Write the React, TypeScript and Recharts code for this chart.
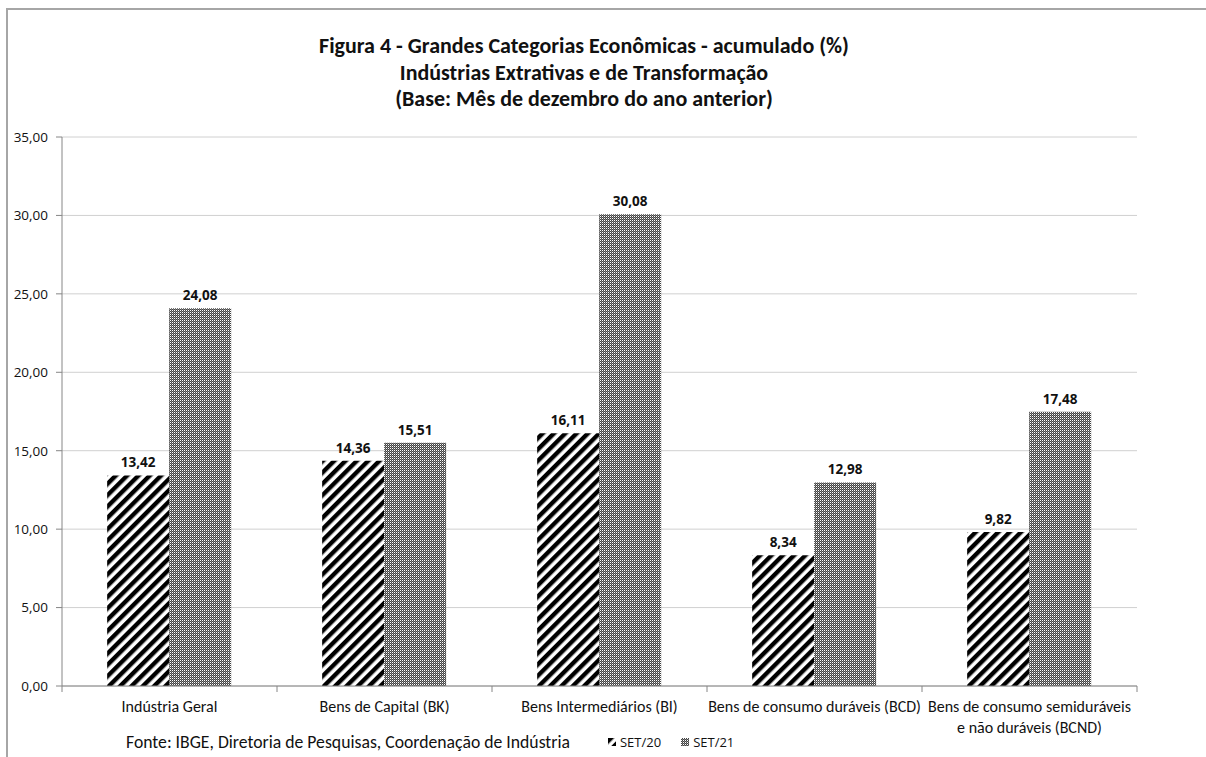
import { BarChart, Bar, XAxis, YAxis, CartesianGrid, LabelList, Legend } from 'recharts';

const categories = [
  'Indústria Geral',
  'Bens de Capital (BK)',
  'Bens Intermediários (BI)',
  'Bens de consumo duráveis (BCD)',
  'Bens de consumo semiduráveis\ne não duráveis (BCND)',
];
const set20 = [13.42, 14.36, 16.11, 8.34, 9.82];
const set21 = [24.08, 15.51, 30.08, 12.98, 17.48];
const yTicks = [0, 5, 10, 15, 20, 25, 30, 35];

const data = categories.map((name, i) => ({ name, set20: set20[i], set21: set21[i] }));

const calibri = 'Carlito, Lato, "Open Sans", sans-serif';
const tahoma = '"Open Sans", "DejaVu Sans", sans-serif';

const fmt = (v: number) => Number(v).toFixed(2).replace('.', ',');

function CategoryTick(props: any) {
  const { x, y, payload, index } = props;
  const half = payload?.offset || 107.5;
  const lines = String(payload.value).split('\n');
  return (
    <g>
      <line x1={x - half} y1={y} x2={x - half} y2={y + 6} stroke="#868686" />
      {index === categories.length - 1 && (
        <line x1={x + half} y1={y} x2={x + half} y2={y + 6} stroke="#868686" />
      )}
      <text x={x} y={y + 26} textAnchor="middle" fontFamily={calibri} fontSize={16} fill="#111">
        {lines.map((l, i) => (
          <tspan key={i} x={x} dy={i === 0 ? 0 : 21}>
            {l}
          </tspan>
        ))}
      </text>
    </g>
  );
}

function Footer(props: any) {
  const { payload } = props;
  return (
    <div style={{ display: 'flex', alignItems: 'center', whiteSpace: 'nowrap' }}>
      <span style={{ fontFamily: calibri, fontSize: 17.7, color: '#111', marginRight: 38 }}>
        Fonte: IBGE, Diretoria de Pesquisas, Coordenação de Indústria
      </span>
      {(payload || []).map((p: any) => (
        <span key={p.value} style={{ display: 'inline-flex', alignItems: 'center', marginRight: 20 }}>
          <svg width={8} height={8} style={{ marginRight: 4 }}>
            <rect width={8} height={8} fill={p.dataKey === 'set20' ? 'url(#stripes)' : 'url(#checker)'} />
          </svg>
          <span style={{ fontFamily: tahoma, fontSize: 13, color: '#111' }}>{p.value}</span>
        </span>
      ))}
    </div>
  );
}

export default function App() {
  return (
    <div style={{ position: 'absolute', left: 0, top: 0, width: 1206, height: 757, background: '#fff' }}>
      <div
        style={{
          position: 'absolute',
          left: 6,
          top: 8,
          right: 0,
          bottom: 0,
          borderTop: '2px solid #a6a6a6',
          borderLeft: '2px solid #a6a6a6',
        }}
      />
      <div
        style={{
          position: 'absolute',
          left: 0,
          top: 33,
          width: 1168,
          textAlign: 'center',
          fontFamily: calibri,
          fontWeight: 700,
          fontSize: 22,
          lineHeight: '26.5px',
          color: '#111',
        }}
      >
        <div>Figura 4 - Grandes Categorias Econômicas - acumulado (%)</div>
        <div>Indústrias Extrativas e de Transformação</div>
        <div>(Base: Mês de dezembro do ano anterior)</div>
      </div>
      <div style={{ position: 'absolute', left: 0, top: 0 }}>
        <BarChart
          width={1206}
          height={757}
          data={data}
          margin={{ top: 137, right: 69, bottom: 9, left: 7 }}
          barCategoryGap="21%"
          barGap={0}
        >
          <defs>
            <pattern id="stripes" patternUnits="userSpaceOnUse" width={8} height={8} patternTransform="rotate(45)">
              <rect width={8} height={8} fill="#fff" />
              <rect width={4.4} height={8} fill="#000" />
            </pattern>
            <pattern id="checker" patternUnits="userSpaceOnUse" width={2} height={2}>
              <rect width={2} height={2} fill="#444" />
              <rect width={1} height={1} fill="#fff" />
              <rect x={1} y={1} width={1} height={1} fill="#808080" />
            </pattern>
          </defs>
          <CartesianGrid vertical={false} stroke="#d0d0d0" />
          <XAxis
            dataKey="name"
            interval={0}
            height={40}
            tickLine={false}
            tickSize={0}
            tickMargin={0}
            axisLine={{ stroke: '#868686' }}
            tick={<CategoryTick />}
          />
          <YAxis
            width={55}
            domain={[0, 35]}
            ticks={yTicks}
            interval={0}
            tickFormatter={fmt}
            tickSize={6}
            tickMargin={8}
            axisLine={{ stroke: '#868686' }}
            tickLine={{ stroke: '#868686' }}
            tick={{ fontFamily: tahoma, fontSize: 13.5, fill: '#111' }}
          />
          <Legend
            content={<Footer />}
            wrapperStyle={{ position: 'absolute', left: 126, top: 731, width: 800, height: 22 }}
          />
          <Bar dataKey="set20" name="SET/20" fill="url(#stripes)" isAnimationActive={false}>
            <LabelList
              dataKey="set20"
              position="top"
              offset={8}
              formatter={(v: any) => fmt(v)}
              style={{ fontFamily: tahoma, fontSize: 13.5, fontWeight: 700, fill: '#111' }}
            />
          </Bar>
          <Bar dataKey="set21" name="SET/21" fill="url(#checker)" isAnimationActive={false}>
            <LabelList
              dataKey="set21"
              position="top"
              offset={8}
              formatter={(v: any) => fmt(v)}
              style={{ fontFamily: tahoma, fontSize: 13.5, fontWeight: 700, fill: '#111' }}
            />
          </Bar>
        </BarChart>
      </div>
    </div>
  );
}
